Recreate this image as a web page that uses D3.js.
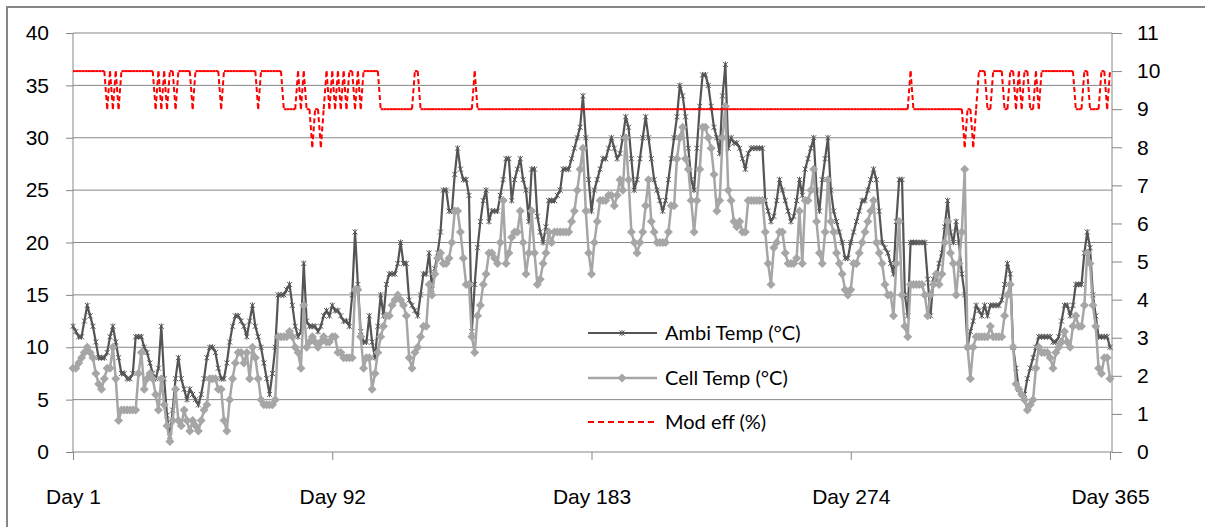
<!DOCTYPE html>
<html lang="en">
<head>
<meta charset="UTF-8">
<title>Ambient temperature, cell temperature and module efficiency</title>
<script src="https://cdn.jsdelivr.net/npm/d3@7"></script>
<style>
  body { margin: 0; background: #fff; }
  svg { display: block; font-family: Lato, "Open Sans", sans-serif; }
  .axis text { fill: #000; font-size: 21px; }
  .axis line { stroke: #868686; }
  .legend text { font-size: 20px; fill: #000; }
</style>
</head>
<body>
<svg id="chart" width="1205" height="527"></svg>
<script>
// daily values (day 1 .. day 365)
const ambiTemp = [
  12, 11.5, 11, 11, 12.5, 14, 13, 12, 10.5, 9, 9, 9, 9.5, 11, 12, 10.5, 9, 7.5, 7.5, 7, 7, 7.5, 11, 11, 11, 10, 9.5, 8.5, 7.5, 7, 8,
  12, 7, 3.5, 1.5, 4, 7, 9, 7, 6, 5, 6, 5.5, 5, 4.5,
  5.5, 7, 9, 10, 10, 9.5, 8, 7, 7, 8.5, 10.5, 12, 13, 13, 12.5, 12, 11, 12.5, 14, 12, 11, 10, 8.5, 7, 5.5, 7.5, 10, 15, 15, 15, 15.5, 16, 14, 12, 11, 11.5, 18, 12.5, 12, 12, 12, 11.5, 12, 13, 13.5, 13, 14, 13.5,
  13.5, 13, 12.5, 12.5, 12, 15, 21, 16, 11.5, 10.5, 10.5, 13, 10.5, 9, 12, 15, 13, 16, 17, 17, 17, 18, 20, 18, 18, 14.5, 14, 13.5, 13, 15, 17, 17, 19, 15.5, 17.5, 19, 21, 25, 25, 23, 23, 26.5, 29, 27, 26, 26, 24.5,
  11.5, 16, 19.5, 22, 24, 25, 22, 23, 23, 23, 24.5, 26, 28, 28, 24, 26, 27, 28, 26, 25, 22, 27, 27, 22.5, 21, 20, 21.5, 24, 24, 24, 24.5, 25, 27, 27, 27, 28, 29, 30, 31, 34, 30, 26, 23, 25, 26, 27, 28, 28,
  29, 30, 29, 28, 28.5, 30, 32, 31, 28, 25, 26, 28, 30, 32, 30, 28, 26, 25, 24, 23, 24, 26, 28, 30, 32, 35, 34, 32, 29, 26, 25, 29, 33, 36, 36, 35, 33, 31, 30, 28.5, 34, 37, 29, 30, 29.5, 29.5, 29,
  28, 27, 28.5, 29, 29, 29, 29, 29, 24, 23, 22, 22.5, 24, 26, 25, 24, 23, 22, 22.5, 24, 26, 24.5, 27, 28, 29, 30, 25, 23, 26, 28, 30, 25, 23, 22, 21, 20, 18.5, 18.5, 20, 21, 22, 23, 24, 24, 25, 26, 27,
  26, 23, 20, 19.5, 19, 18, 17, 22, 26, 26, 15, 13, 20, 20, 20, 20, 20, 20, 16.5, 13, 16.5, 16.5, 18, 19, 21.5, 24, 21, 20, 22, 20, 17, 15, 10, 11.5, 12.5, 14, 13.5, 13, 14, 13, 14, 14, 14, 14, 14.5, 16, 18, 17,
  10, 8, 6, 5.5, 5.5, 7, 8, 9, 10, 11, 11, 11, 11, 11, 10.5, 10.5, 11, 12.5, 14, 14, 13, 14, 16, 16, 16, 19, 21, 19.5, 15, 13, 11, 11, 11, 11, 10
];
const cellTemp = [
  8, 8, 8.5, 9, 9.5, 10, 9.5, 9, 7.5, 6.5, 6, 7, 8, 8, 10, 7, 3, 4, 4, 4, 4, 4, 4, 7.5, 9.5, 6, 7, 7.5, 7, 5.5, 4, 7, 4.5, 2.5, 1, 3, 6, 3, 2.5, 4, 3, 2, 3, 2.5, 2,
  3, 4, 4.5, 7, 7, 7, 6, 6, 3, 2, 5, 7, 8.5, 9.5, 9.5, 8.5, 9.5, 7, 10, 9, 7, 5, 4.5, 4.5, 4.5, 4.5, 5, 11, 11, 11, 11, 11.5, 11, 10, 9.5, 8, 14, 10, 10.5, 11, 10.5, 10, 10.5, 11, 10.5, 10.5, 11, 11,
  9.5, 9.5, 9, 9, 9, 9, 15.5, 15.5, 11, 8, 9, 9, 6, 7.5, 9.5, 11, 12, 13, 13, 14, 14.5, 15, 14.5, 14, 13, 9, 8, 9.5, 10, 11, 12, 12, 16, 15, 17, 18.5, 19, 18, 18, 18.5, 20, 23, 23, 21, 18.5, 16, 16,
  11, 9.5, 13, 14, 16, 17, 19, 19, 18.5, 18, 20, 24, 18, 19, 20.5, 21, 21, 23, 20, 17, 19, 23, 19, 16, 16.5, 18, 19, 21, 20, 21, 21, 21, 21, 21, 21, 22, 23, 25, 27, 29, 23, 19, 17, 20, 22, 24, 24, 24,
  24.5, 24.5, 23.5, 24.5, 26, 25, 30, 26, 21, 20, 19, 20, 21, 23.5, 26, 22, 21, 20, 20, 20, 20, 21, 23.5, 23.5, 28, 30, 31, 28, 27, 24, 21, 24, 27, 31, 31, 30, 29, 26.5, 23, 24, 30, 33, 25, 24, 22, 21.5, 22,
  21, 21, 24, 24, 24, 24, 24, 24, 21, 18, 16, 19.5, 20, 21, 21, 19, 18, 18, 18, 18.5, 23, 18, 24, 24, 25, 27, 22, 19, 18, 21, 26, 22, 21, 19, 18, 17, 15.5, 15, 15.5, 18, 18, 19, 20, 21, 22, 23, 24,
  20, 19, 18, 16, 15, 15, 13, 18, 22, 15, 12, 11, 16, 16, 16, 16, 16, 15, 13, 15, 16, 17, 16, 17, 20, 22, 19, 18, 15, 18, 21, 27, 10, 7, 10, 11, 11, 11, 11, 11, 12, 11, 11, 11, 11, 13, 15, 16,
  10, 6.5, 6, 5.5, 5, 4, 4.5, 5, 8, 10, 9.5, 9.5, 9.5, 9, 8, 9.5, 10, 10.5, 11.5, 10.5, 10, 12, 13, 12, 12, 14, 19, 18, 14, 12, 8, 7.5, 9, 9, 7
];
// module efficiency as [value %, number of consecutive days]
const effRuns = [
  [10, 12], [9, 1], [10, 1], [9, 1], [10, 1], [9, 1], [10, 12], [9, 1], [10, 1], [9, 1], [10, 1], [9, 1],
  [10, 2], [9, 1], [10, 5], [9, 1], [10, 9], [9, 1], [10, 12], [9, 1], [10, 8], [9, 5], [10, 1], [9, 1],
  [10, 1], [9, 2], [8, 1], [9, 2], [8, 1], [9, 1], [10, 1], [9, 1], [10, 1], [9, 1], [10, 1], [9, 1],
  [10, 1], [9, 1], [10, 2], [9, 1], [10, 1], [9, 1], [10, 6], [9, 12], [10, 2], [9, 19], [10, 1], [9, 152],
  [10, 1], [9, 18], [8, 1], [9, 2], [8, 1], [9, 1], [10, 3], [9, 2], [10, 4], [9, 2], [10, 2], [9, 1],
  [10, 1], [9, 1], [10, 2], [9, 2], [10, 1], [9, 1], [10, 12], [9, 3], [10, 2], [9, 4], [10, 2], [9, 1], [10, 1]
];
const leftTicks = [0, 5, 10, 15, 20, 25, 30, 35, 40];
const rightTicks = [0, 1, 2, 3, 4, 5, 6, 7, 8, 9, 10, 11];
const dayTicks = [1, 92, 183, 274, 365];
const seriesNames = ["Ambi Temp (°C)", "Cell Temp (°C)", "Mod eff (%)"];

const modEff = effRuns.flatMap(([v, n]) => Array(n).fill(v));
const days = d3.range(1, ambiTemp.length + 1);

const svg = d3.select('#chart');
const plotLeft = 73, plotRight = 1112, plotTop = 33, plotBottom = 452;
const grey = '#868686';

const x = d3.scaleLinear().domain([1, 365]).range([plotLeft, 1110]);
const yL = d3.scaleLinear().domain([0, 40]).range([plotBottom, plotTop]);
const yR = d3.scaleLinear().domain([0, 11]).range([plotBottom, plotTop]);

// outer chart frame (runs off the right / bottom of the picture)
svg.append('rect')
  .attr('x', 7).attr('y', 7).attr('width', 1240).attr('height', 560)
  .attr('fill', 'none').attr('stroke', grey).attr('stroke-width', 2);

// horizontal gridlines
svg.append('g').selectAll('line')
  .data(leftTicks.filter(d => d > 0))
  .enter().append('line')
    .attr('x1', plotLeft).attr('x2', plotRight)
    .attr('y1', d => yL(d)).attr('y2', d => yL(d))
    .attr('stroke', grey).attr('stroke-width', 1);

// axes
const axL = svg.append('g').attr('class', 'axis')
  .attr('transform', `translate(${plotLeft},0)`)
  .call(d3.axisLeft(yL).tickValues(leftTicks).tickSize(7).tickSizeOuter(0).tickPadding(17));
const axR = svg.append('g').attr('class', 'axis')
  .attr('transform', `translate(${plotRight},0)`)
  .call(d3.axisRight(yR).tickValues(rightTicks).tickSize(10).tickSizeOuter(0).tickPadding(15));
const axB = svg.append('g').attr('class', 'axis')
  .attr('transform', `translate(0,${plotBottom})`)
  .call(d3.axisBottom(x).tickValues(dayTicks).tickFormat(d => 'Day ' + d).tickSize(8).tickPadding(29));
[axL, axR, axB].forEach(a => a.select('.domain').remove());

svg.append('line').attr('x1', plotLeft).attr('x2', plotLeft).attr('y1', plotTop).attr('y2', plotBottom).attr('stroke', grey);
svg.append('line').attr('x1', plotRight).attr('x2', plotRight).attr('y1', plotTop).attr('y2', plotBottom).attr('stroke', grey);
svg.append('line').attr('x1', plotLeft).attr('x2', plotRight).attr('y1', plotBottom).attr('y2', plotBottom).attr('stroke', grey);

// marker shapes
const starPath = 'M-2.5,-2.5L2.5,2.5M-2.5,2.5L2.5,-2.5M0,-3L0,3';
const diamondPath = 'M0,-4.5L4.5,0L0,4.5L-4.5,0Z';
const ambiColor = '#555555', cellColor = '#a6a6a6';

const lineL = d3.line().x((d, i) => x(days[i])).y(d => yL(d));

// Ambi temperature
svg.append('path').datum(ambiTemp)
  .attr('d', lineL).attr('fill', 'none')
  .attr('stroke', ambiColor).attr('stroke-width', 2.2).attr('stroke-linejoin', 'round');
svg.append('g').selectAll('path')
  .data(ambiTemp)
  .enter().append('path')
    .attr('d', starPath)
    .attr('transform', (d, i) => `translate(${x(days[i])},${yL(d)})`)
    .attr('stroke', ambiColor).attr('stroke-width', 1).attr('fill', 'none');

// Cell temperature
svg.append('path').datum(cellTemp)
  .attr('d', lineL).attr('fill', 'none')
  .attr('stroke', cellColor).attr('stroke-width', 2.5).attr('stroke-linejoin', 'round');
svg.append('g').selectAll('path')
  .data(cellTemp)
  .enter().append('path')
    .attr('d', diamondPath)
    .attr('transform', (d, i) => `translate(${x(days[i])},${yL(d)})`)
    .attr('fill', cellColor);

// module efficiency: one short dashed segment per day, like the original
svg.append('g').selectAll('line')
  .data(d3.pairs(modEff))
  .enter().append('line')
    .attr('x1', (d, i) => x(days[i])).attr('y1', d => yR(d[0]))
    .attr('x2', (d, i) => x(days[i + 1])).attr('y2', d => yR(d[1]))
    .attr('stroke', '#ff0000').attr('stroke-width', 2)
    .attr('stroke-dasharray', '5,3');

// legend
const legend = svg.append('g').attr('class', 'legend');
const legY = [333, 378, 422];
legend.append('line').attr('x1', 588).attr('x2', 657).attr('y1', legY[0]).attr('y2', legY[0])
  .attr('stroke', ambiColor).attr('stroke-width', 2.2);
legend.append('path').attr('d', starPath).attr('transform', `translate(622,${legY[0]})`)
  .attr('stroke', ambiColor).attr('fill', 'none');
legend.append('line').attr('x1', 588).attr('x2', 657).attr('y1', legY[1]).attr('y2', legY[1])
  .attr('stroke', cellColor).attr('stroke-width', 2.5);
legend.append('path').attr('d', diamondPath).attr('transform', `translate(622,${legY[1]})`)
  .attr('fill', cellColor);
legend.append('line').attr('x1', 588).attr('x2', 657).attr('y1', legY[2]).attr('y2', legY[2])
  .attr('stroke', '#ff0000').attr('stroke-width', 2).attr('stroke-dasharray', '6,4');
legend.selectAll('text')
  .data(seriesNames)
  .enter().append('text')
    .attr('x', 665).attr('y', (d, i) => legY[i]).attr('dy', '0.35em')
    .text(d => d);
</script>
</body>
</html>
